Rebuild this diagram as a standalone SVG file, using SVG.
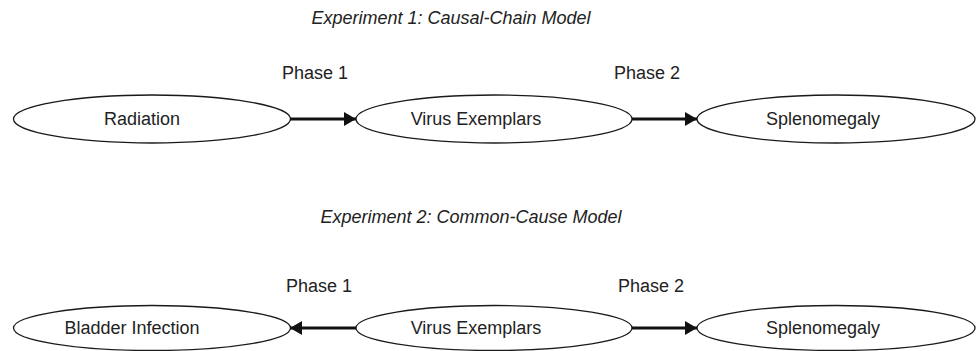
<svg xmlns="http://www.w3.org/2000/svg" width="976" height="351" viewBox="0 0 976 351">
  <style>
    text { font-family: "Liberation Sans", Arial, sans-serif; font-size: 18px; fill: #222222; text-anchor: middle; }
    .title { font-style: italic; }
    .node ellipse { fill: #ffffff; stroke: #1a1a1a; stroke-width: 1.3; }
    .edge { stroke: #111111; stroke-width: 3; fill: none; marker-end: url(#head); }
  </style>
  <defs>
    <marker id="head" viewBox="0 0 12 14" refX="12" refY="7" markerUnits="userSpaceOnUse" markerWidth="12" markerHeight="14" orient="auto">
      <path d="M0,0 L12,7 L0,14 Z" fill="#111111"/>
    </marker>
  </defs>

  <rect width="976" height="351" fill="#ffffff"/>

  <!-- Experiment 1: causal chain -->
  <text class="title" x="451" y="24">Experiment 1: Causal-Chain Model</text>
  <text x="315" y="79">Phase 1</text>
  <text x="647" y="79">Phase 2</text>

  <g id="radiation" class="node">
    <ellipse cx="152" cy="119" rx="138.5" ry="24"/>
    <text x="142" y="125">Radiation</text>
  </g>
  <g id="virus-1" class="node">
    <ellipse cx="494" cy="119" rx="138" ry="24"/>
    <text x="476" y="125">Virus Exemplars</text>
  </g>
  <g id="splenomegaly-1" class="node">
    <ellipse cx="836" cy="119" rx="139" ry="24"/>
    <text x="823" y="125">Splenomegaly</text>
  </g>

  <!-- Experiment 2: common cause -->
  <text class="title" x="471" y="223">Experiment 2: Common-Cause Model</text>
  <text x="319" y="292">Phase 1</text>
  <text x="651" y="292">Phase 2</text>

  <g id="bladder" class="node">
    <ellipse cx="152" cy="328" rx="138.5" ry="22.5"/>
    <text x="132" y="334">Bladder Infection</text>
  </g>
  <g id="virus-2" class="node">
    <ellipse cx="494" cy="328" rx="138" ry="22.5"/>
    <text x="476" y="334">Virus Exemplars</text>
  </g>
  <g id="splenomegaly-2" class="node">
    <ellipse cx="836" cy="328" rx="139" ry="22.5"/>
    <text x="823" y="334">Splenomegaly</text>
  </g>

  <g id="connectors">
    <line class="edge" x1="290" y1="119" x2="356" y2="119"/>
    <line class="edge" x1="632" y1="119" x2="697" y2="119"/>
    <line class="edge" x1="356" y1="328" x2="290" y2="328"/>
    <line class="edge" x1="632" y1="328" x2="697" y2="328"/>
  </g>
</svg>
